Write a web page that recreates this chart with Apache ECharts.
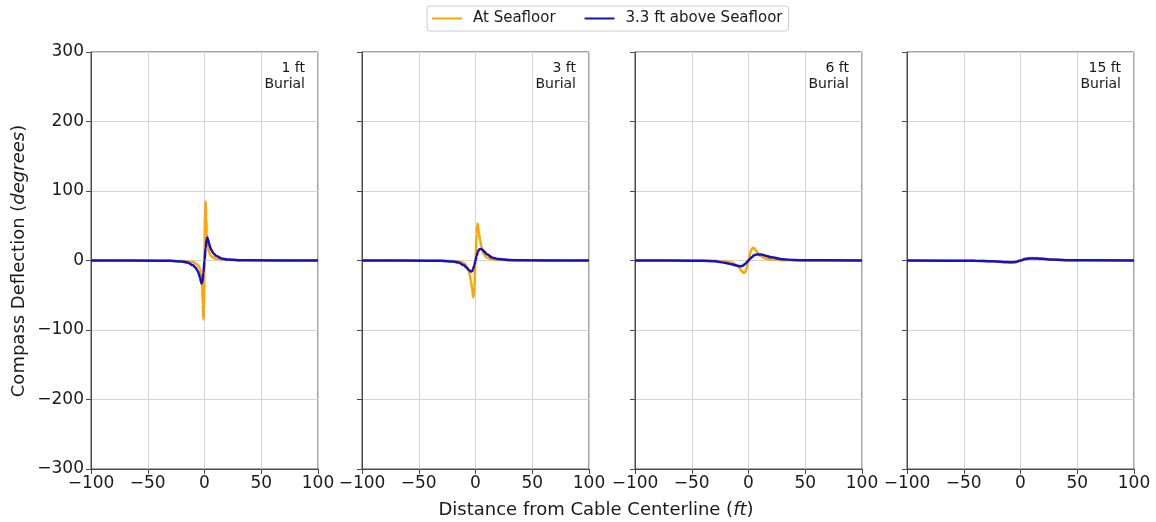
<!DOCTYPE html>
<html>
<head>
<meta charset="utf-8">
<script src="https://cdn.jsdelivr.net/npm/echarts@6/dist/echarts.min.js"></script>
<style>
html,body{margin:0;padding:0;background:#fff;}
#chart{width:1156px;height:522px;}
</style>
</head>
<body>
<div id="chart"></div>
<script>
// ---- data ----
const burialLabels = ['1 ft', '3 ft', '6 ft', '15 ft'];
const seriesNames = ['At Seafloor', '3.3 ft above Seafloor'];

// Panel 1 (1 ft burial)
const p1SeaX = [-100, -30, -20, -15, -10, -7, -5, -4, -3, -2, -1.5, -1, -0.5, 0, 0.5, 1, 1.5, 2, 3, 4, 5, 7, 10, 15, 20, 30, 100];
const p1SeaY = [0, -0.3, -0.8, -1.5, -2.5, -5, -8, -12, -20, -40, -62, -85, -70, 0, 70, 85, 62, 40, 20, 12, 8, 5, 2.5, 1.5, 0.8, 0.3, 0];
const p1AbvX = [-100, -40, -30, -20, -15, -10, -8, -6, -5, -4, -3, -2.5, -2, -1, 0, 1, 2, 2.5, 3, 4, 5, 6, 8, 10, 15, 20, 30, 40, 100];
const p1AbvY = [0, -0.2, -0.5, -1.5, -3, -7, -10, -15, -19, -25, -31, -33, -31, -18, 0, 18, 31, 33, 31, 25, 19, 15, 10, 7, 3, 1.5, 0.5, 0.2, 0];

// Panel 2 (3 ft burial)
const p2SeaX = [-100, -30, -20, -15, -10, -7, -6, -5, -4, -3, -2, -1.5, -1, 0, 1, 1.5, 2, 3, 4, 5, 7, 10, 15, 20, 30, 100];
const p2SeaY = [0, -0.3, -0.8, -1.5, -4, -10, -15, -21, -30, -40, -53, -50, -38, 0, 38, 50, 53, 40, 30, 21, 10, 4, 1.5, 0.8, 0.3, 0];
const p2AbvX = [-100, -40, -30, -20, -15, -10, -8, -6, -4, -3, -2, -1, 0, 1, 2, 3, 4, 5, 6, 8, 10, 15, 20, 30, 40, 100];
const p2AbvY = [0, -0.2, -0.5, -1.5, -3, -7, -10, -13.5, -16, -15.5, -12, -6.5, 0, 6.5, 12, 15.5, 16.5, 16.5, 15.5, 12.5, 9, 4, 2, 0.6, 0.2, 0];

// Panel 3 (6 ft burial)
const p3SeaX = [-100, -40, -30, -20, -15, -10, -8, -6, -4, -3, -2, -1, 0, 1, 2, 3, 4, 5, 6, 8, 10, 15, 20, 30, 40, 100];
const p3SeaY = [0, -0.2, -0.5, -1.5, -3, -7, -11, -15.5, -18, -17, -13, -7, 0, 7, 13, 17, 18.3, 17.5, 15.5, 11, 7, 3, 1.5, 0.5, 0.2, 0];
const p3AbvX = [-100, -50, -40, -30, -20, -15, -10, -7, -5, -3, -1, 0, 1, 3, 5, 7, 10, 12, 15, 20, 30, 40, 50, 100];
const p3AbvY = [0, -0.2, -0.5, -1.2, -3.5, -5.5, -7.5, -8.2, -7.5, -5, -1.8, 0, 1.8, 5, 7.5, 8.5, 8.7, 8.3, 7, 4.5, 1.8, 0.7, 0.3, 0];

// Panel 4 (15 ft burial)
const p4SeaX = [-100, -40, -25, -15, -8, -4, 0, 4, 8, 12, 18, 25, 40, 100];
const p4SeaY = [0, -0.3, -1.2, -2.5, -3, -2.5, 0, 2.5, 3.5, 3.5, 2.8, 1.5, 0.5, 0];
const p4AbvX = [-100, -40, -25, -15, -8, -4, 0, 4, 8, 12, 18, 25, 40, 100];
const p4AbvY = [0, -0.3, -1, -2, -2.5, -2, 0, 2, 3, 3, 2.5, 1.5, 0.5, 0];

const seafloorX = [p1SeaX, p2SeaX, p3SeaX, p4SeaX];
const seafloorY = [p1SeaY, p2SeaY, p3SeaY, p4SeaY];
const aboveX = [p1AbvX, p2AbvX, p3AbvX, p4AbvX];
const aboveY = [p1AbvY, p2AbvY, p3AbvY, p4AbvY];

// ---- chart ----
const zip = (xs, ys) => xs.map((x, i) => [x, ys[i]]);
const fmtMinus = v => String(v).replace('-', '\u2212');
const FONT = 'DejaVu Sans';
const lefts = [91, 362, 635, 907];
const W = 227, TOP = 52, H = 417;
const ORANGE = '#FFA500', BLUE = '#1212C8';

const grids = [], xAxes = [], yAxes = [], series = [], graphics = [];
lefts.forEach((l, i) => {
  grids.push({left: l, top: TOP, width: W, height: H, show: true, borderColor: '#4a4a4a', borderWidth: 1, containLabel: false});
  xAxes.push({
    gridIndex: i, type: 'value', min: -100, max: 100, interval: 50,
    axisLine: {show: true, onZero: false, lineStyle: {color: '#4a4a4a', width: 1}},
    axisTick: {show: true, length: 5, lineStyle: {color: '#4a4a4a'}},
    axisLabel: {show: true, formatter: fmtMinus, fontFamily: FONT, fontSize: 17, color: '#1a1a1a', margin: 6},
    splitLine: {show: true, lineStyle: {color: '#d4d4d4', width: 1}}
  });
  yAxes.push({
    gridIndex: i, type: 'value', min: -300, max: 300, interval: 100,
    axisLine: {show: true, onZero: false, lineStyle: {color: '#4a4a4a', width: 1}},
    axisTick: {show: true, length: 5, lineStyle: {color: '#4a4a4a'}},
    axisLabel: {show: i === 0, formatter: fmtMinus, fontFamily: FONT, fontSize: 17, color: '#1a1a1a', margin: 7},
    splitLine: {show: true, lineStyle: {color: '#d4d4d4', width: 1}}
  });
  series.push({
    name: seriesNames[0], type: 'line', xAxisIndex: i, yAxisIndex: i,
    data: zip(seafloorX[i], seafloorY[i]), showSymbol: false, smooth: 0.35, smoothMonotone: 'x',
    lineStyle: {color: ORANGE, width: 2.5}, itemStyle: {color: ORANGE}, z: 2
  });
  series.push({
    name: seriesNames[1], type: 'line', xAxisIndex: i, yAxisIndex: i,
    data: zip(aboveX[i], aboveY[i]), showSymbol: false, smooth: 0.35, smoothMonotone: 'x',
    lineStyle: {color: BLUE, width: 2.5}, itemStyle: {color: BLUE}, z: 3
  });
  graphics.push({
    type: 'text', x: l + W - 13, y: 68.5,
    style: {text: burialLabels[i], font: '14px "DejaVu Sans"', fill: '#1a1a1a', textAlign: 'right', textVerticalAlign: 'middle'}
  });
  graphics.push({
    type: 'text', x: l + W - 13, y: 84.5,
    style: {text: 'Burial', font: '14px "DejaVu Sans"', fill: '#1a1a1a', textAlign: 'right', textVerticalAlign: 'middle'}
  });
});

graphics.push({
  type: 'text', x: 596, y: 510,
  style: {
    text: 'Distance from Cable Centerline ({i|ft})',
    font: '18px "DejaVu Sans"', fill: '#1a1a1a', textAlign: 'center', textVerticalAlign: 'middle',
    rich: {i: {fontStyle: 'italic', fontFamily: FONT, fontSize: 18, fill: '#1a1a1a'}}
  }
});
graphics.push({
  type: 'text', x: 19, y: 261, rotation: Math.PI / 2,
  style: {
    text: 'Compass Deflection ({i|degrees})',
    font: '18px "DejaVu Sans"', fill: '#1a1a1a', textAlign: 'center', textVerticalAlign: 'middle',
    rich: {i: {fontStyle: 'italic', fontFamily: FONT, fontSize: 18, fill: '#1a1a1a'}}
  }
});

const chart = echarts.init(document.getElementById('chart'), null, {renderer: 'canvas'});
chart.setOption({
  animation: false,
  backgroundColor: '#ffffff',
  legend: {
    data: seriesNames, left: 427, top: 6,
    padding: [5, 6, 5, 5], itemGap: 29, itemWidth: 30, itemHeight: 2, icon: 'rect',
    borderColor: '#cccccc', borderWidth: 1, borderRadius: 3,
    textStyle: {fontFamily: FONT, fontSize: 15, color: '#1a1a1a', padding: [0, 0, 0, 6]}
  },
  grid: grids, xAxis: xAxes, yAxis: yAxes, series: series, graphic: graphics
});
</script>
</body>
</html>
